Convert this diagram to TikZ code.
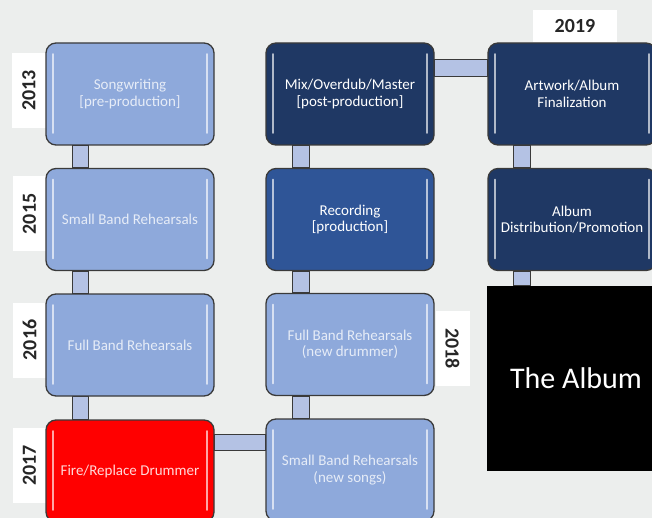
\documentclass[tikz,border=0pt]{standalone}
\usepackage{fontspec}
\setmainfont{Carlito}
\usetikzlibrary{backgrounds}
\definecolor{bgc}{HTML}{ECEEED}
\definecolor{lightb}{HTML}{8EA9DB}
\definecolor{midb}{HTML}{2F5597}
\definecolor{darkb}{HTML}{1F3864}
\definecolor{edgec}{HTML}{3A3A3A}
\definecolor{connc}{HTML}{B4C2E4}
\definecolor{paletext}{HTML}{E6ECF7}
\definecolor{redb}{HTML}{FF0000}
\tikzset{
  glossline/.style={white,opacity=.65,line width=1.8pt,line cap=round},
  stagebox/.style={rectangle, rounded corners=10pt, draw=edgec, line width=1.3pt,
    minimum width=168pt, minimum height=102pt, align=center, inner sep=2pt,
    font=\fontsize{15}{16.5}\selectfont,
    path picture={
      \draw[glossline] ([xshift=7pt,yshift=-11pt]path picture bounding box.north west) -- ([xshift=7pt,yshift=12pt]path picture bounding box.south west);
      \draw[glossline] ([xshift=-7pt,yshift=-11pt]path picture bounding box.north east) -- ([xshift=-7pt,yshift=12pt]path picture bounding box.south east);
    }},
  lightbox/.style={stagebox, fill=lightb, text=paletext},
  midbox/.style={stagebox, fill=midb, text=white},
  darkbox/.style={stagebox, fill=darkb, text=white},
  redbox/.style={stagebox, fill=redb, text=white!85!red},
  conn/.style={draw=edgec, line width=1.1pt, fill=connc},
  yearlab/.style={fill=white, font=\fontsize{20}{20}\selectfont\bfseries, text=black!85,
    inner sep=0pt, minimum width=75pt, minimum height=34pt},
}
\begin{document}
\begin{tikzpicture}[x=1pt,y=-1pt]
\useasboundingbox (0,0) rectangle (652,518);
\clip (0,0) rectangle (652,518);
% year labels
\node[yearlab, rotate=90] (y13) at (29,90.5) {2013};
\node[yearlab, rotate=90] (y15) at (29.5,214) {2015};
\node[yearlab, rotate=90] (y16) at (29.5,340) {2016};
\node[yearlab, rotate=90] (y17) at (29.5,465.5) {2017};
\node[yearlab, rotate=-90] (y18) at (452.5,348.5) {2018};
\node[yearlab, minimum width=84pt, minimum height=32pt] (y19) at (575,26) {2019};
% stages
\node[lightbox] (s1) at (130,94) {Songwriting\\{[pre-production]}};
\node[lightbox] (s2) at (130,219.5) {Small Band Rehearsals};
\node[lightbox] (s3) at (130,345) {Full Band Rehearsals};
\node[redbox] (s4) at (130,471) {Fire/Replace Drummer};
\node[lightbox] (m4) at (350,470) {Small Band Rehearsals\\(new songs)};
\node[lightbox] (m3) at (350,344.5) {Full Band Rehearsals\\(new drummer)};
\node[midbox] (m2) at (350,219.5) {Recording\\{[production]}};
\node[darkbox] (m1) at (350,94) {Mix/Overdub/Master\\{[post-production]}};
\node[darkbox] (a1) at (572,94) {Artwork/Album\\Finalization};
\node[darkbox] (a2) at (572,219.5) {Album\\Distribution/Promotion};
\node[fill=black, text=white, minimum width=178pt, minimum height=185pt, inner sep=0pt,
  font=\fontsize{30}{30}\selectfont] (alb) at (576,378.5) {The Album};
\begin{pgfonlayer}{background}
\fill[bgc] (0,0) rectangle (652,518);
\draw[conn] ([xshift=27pt]s1.south west) rectangle ([xshift=43pt]s2.north west);
\draw[conn] ([xshift=27pt]s2.south west) rectangle ([xshift=43pt]s3.north west);
\draw[conn] ([xshift=27pt]s3.south west) rectangle ([xshift=43pt]s4.north west);
\draw[conn] ([yshift=-15pt]s4.north east) rectangle ([yshift=-32pt]m4.north west);
\draw[conn] ([xshift=27pt]m4.north west) rectangle ([xshift=44pt]m3.south west);
\draw[conn] ([xshift=27pt]m3.north west) rectangle ([xshift=44pt]m2.south west);
\draw[conn] ([xshift=27pt]m2.north west) rectangle ([xshift=44pt]m1.south west);
\draw[conn] ([yshift=-17pt]m1.north east) rectangle ([yshift=-34pt]a1.north west);
\draw[conn] ([xshift=26pt]a1.south west) rectangle ([xshift=43pt]a2.north west);
\draw[conn] ([xshift=26pt]a2.south west) rectangle ([xshift=43pt]a2.south west |- alb.north);
\end{pgfonlayer}
\end{tikzpicture}
\end{document}
